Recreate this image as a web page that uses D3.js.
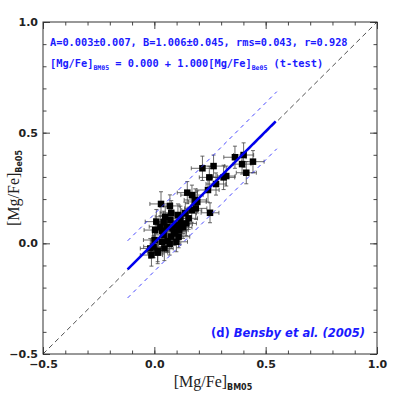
<!DOCTYPE html>
<html>
  <head>
    <meta charset="utf-8">
    <title>Mg/Fe comparison</title>
    <script src="https://d3js.org/d3.v7.min.js"></script>
    <style>
      body { margin: 0; background: #fff; }
      .tick text { font-family: "DejaVu Sans", sans-serif; font-weight: bold; }
    </style>
  </head>
  <body>
    <div id="graph"></div>
  </body>

  <script>
    // Stars: [Mg/Fe] from BM05 (x) vs Bensby et al. 2005 (y), with errors
    const xVals = [0.362, 0.401, 0.443, 0.394, 0.413, 0.216, 0.266, 0.247, 0.311, 0.323,
                   0.277, 0.241, 0.148, 0.169, 0.193, 0.030, 0.070, 0.186, 0.250, 0.076,
                   0.106, 0.139, 0.009, 0.042, 0.072, 0.121, 0.144, 0.004, 0.035, 0.082,
                   0.112, 0.042, 0.076, 0.109, 0.001, 0.035, 0.069, -0.018, 0.015, 0.045,
                   -0.013, 0.015, 0.094, 0.129, 0.168, 0.027, 0.057, 0.099, -0.003, 0.117,
                   0.154, 0.184, 0.049, 0.102, 0.060, 0.088];
    const yVals = [0.389, 0.399, 0.369, 0.358, 0.319, 0.339, 0.349, 0.298, 0.298, 0.304,
                   0.268, 0.241, 0.229, 0.218, 0.187, 0.178, 0.169, 0.158, 0.138, 0.138,
                   0.128, 0.136, 0.098, 0.095, 0.105, 0.087, 0.090, 0.060, 0.057, 0.068,
                   0.060, 0.038, 0.030, 0.030, 0.015, 0.007, -0.003, -0.023, -0.033, -0.023,
                   -0.053, -0.042, 0.053, 0.072, 0.150, 0.075, 0.075, 0.007, -0.015, 0.113,
                   0.113, 0.196, 0.120, 0.083, 0.010, 0.045];
    const xErr = [0.05, 0.045, 0.05, 0.04, 0.045, 0.05, 0.05, 0.045, 0.05, 0.04,
                  0.045, 0.05, 0.045, 0.05, 0.04, 0.05, 0.045, 0.05, 0.04, 0.05,
                  0.045, 0.05, 0.05, 0.045, 0.04, 0.05, 0.045, 0.05, 0.045, 0.05,
                  0.04, 0.05, 0.045, 0.05, 0.05, 0.045, 0.05, 0.045, 0.05, 0.04,
                  0.05, 0.045, 0.05, 0.04, 0.045, 0.05, 0.045, 0.05, 0.045, 0.05,
                  0.04, 0.05, 0.045, 0.05, 0.045, 0.05];
    const yErr = [0.05, 0.055, 0.05, 0.045, 0.05, 0.055, 0.05, 0.05, 0.055, 0.045,
                  0.05, 0.055, 0.05, 0.045, 0.05, 0.055, 0.05, 0.05, 0.045, 0.055,
                  0.05, 0.05, 0.055, 0.05, 0.045, 0.05, 0.055, 0.05, 0.05, 0.055,
                  0.045, 0.05, 0.055, 0.05, 0.05, 0.055, 0.05, 0.045, 0.05, 0.055,
                  0.05, 0.05, 0.045, 0.05, 0.055, 0.05, 0.05, 0.045, 0.05, 0.055,
                  0.05, 0.05, 0.045, 0.05, 0.05, 0.055];

    // Fit: y = A + B x, +/- 3 rms band
    const fitA = 0.003, fitB = 1.006, fitRms = 0.043;
    const fitRange = [-0.12, 0.545];
    const bandRange = [-0.12, 0.55];

    const majorTicks = [-0.5, 0.0, 0.5, 1.0];
    const minorTicks = d3.range(-0.5, 1.0001, 0.1);

    const width = 398, height = 398;
    const margin = ({top: 22, right: 21, bottom: 44, left: 43});

    const x = d3.scaleLinear().domain([-0.5, 1.0]).range([margin.left, width - margin.right]);
    const y = d3.scaleLinear().domain([-0.5, 1.0]).range([height - margin.bottom, margin.top]);

    const svg = d3.select("#graph").append("svg")
      .attr("width", width)
      .attr("height", height);

    const fmt = d3.format(".1f");

    // inward ticks on all four sides
    function drawAxis(axisFn, scale, transform, size, values, labels) {
      const g = svg.append("g")
        .attr("transform", transform)
        .call(axisFn(scale).tickValues(values).tickSize(-size).tickPadding(4)
          .tickFormat(labels ? fmt : ""));
      g.select(".domain").remove();
      g.selectAll("line").attr("stroke", "#333").attr("stroke-width", 0.9);
      return g;
    }
    const bottomY = `translate(0,${height - margin.bottom})`;
    const topY = `translate(0,${margin.top})`;
    const leftX = `translate(${margin.left},0)`;
    const rightX = `translate(${width - margin.right},0)`;

    drawAxis(d3.axisBottom, x, bottomY, 3.5, minorTicks, false);
    const xa = drawAxis(d3.axisBottom, x, bottomY, 7, majorTicks, true);
    drawAxis(d3.axisTop, x, topY, 3.5, minorTicks, false);
    drawAxis(d3.axisTop, x, topY, 7, majorTicks, false);
    drawAxis(d3.axisLeft, y, leftX, 3.5, minorTicks, false);
    const ya = drawAxis(d3.axisLeft, y, leftX, 7, majorTicks, true);
    drawAxis(d3.axisRight, y, rightX, 3.5, minorTicks, false);
    drawAxis(d3.axisRight, y, rightX, 7, majorTicks, false);

    xa.selectAll("text").attr("font-size", 11).attr("fill", "#222").attr("dy", "0.9em");
    ya.selectAll("text").attr("font-size", 11).attr("fill", "#222").attr("dx", "-1");

    svg.append("rect")
      .attr("x", margin.left).attr("y", margin.top)
      .attr("width", width - margin.left - margin.right)
      .attr("height", height - margin.top - margin.bottom)
      .attr("fill", "none").attr("stroke", "#333").attr("stroke-width", 1);

    // one-to-one line
    svg.append("line")
      .attr("x1", x(-0.5)).attr("y1", y(-0.5))
      .attr("x2", x(1.0)).attr("y2", y(1.0))
      .attr("stroke", "#222").attr("stroke-width", 0.8)
      .attr("stroke-dasharray", "5,3.5");

    // error bars
    const pts = xVals.map((v, i) => ({x: v, y: yVals[i], ex: xErr[i], ey: yErr[i]}));
    const cap = 2;
    const eb = svg.append("g").attr("stroke", "#444").attr("stroke-width", 0.8);
    pts.forEach(d => {
      eb.append("line").attr("x1", x(d.x - d.ex)).attr("x2", x(d.x + d.ex))
        .attr("y1", y(d.y)).attr("y2", y(d.y));
      eb.append("line").attr("x1", x(d.x)).attr("x2", x(d.x))
        .attr("y1", y(d.y - d.ey)).attr("y2", y(d.y + d.ey));
      [d.x - d.ex, d.x + d.ex].forEach(v => eb.append("line")
        .attr("x1", x(v)).attr("x2", x(v)).attr("y1", y(d.y) - cap).attr("y2", y(d.y) + cap));
      [d.y - d.ey, d.y + d.ey].forEach(v => eb.append("line")
        .attr("x1", x(d.x) - cap).attr("x2", x(d.x) + cap).attr("y1", y(v)).attr("y2", y(v)));
    });

    // squares
    const sz = 6.5;
    svg.append("g").selectAll("rect").data(pts).enter().append("rect")
      .attr("x", d => x(d.x) - sz / 2).attr("y", d => y(d.y) - sz / 2)
      .attr("width", sz).attr("height", sz).attr("fill", "#000");

    // fit line and +/- 3 rms
    const fy = v => fitA + fitB * v;
    svg.append("line")
      .attr("x1", x(fitRange[0])).attr("y1", y(fy(fitRange[0])))
      .attr("x2", x(fitRange[1])).attr("y2", y(fy(fitRange[1])))
      .attr("stroke", "#0000ee").attr("stroke-width", 2.6);
    [3 * fitRms, -3 * fitRms].forEach(off => {
      svg.append("line")
        .attr("x1", x(bandRange[0])).attr("y1", y(fy(bandRange[0]) + off))
        .attr("x2", x(bandRange[1])).attr("y2", y(fy(bandRange[1]) + off))
        .attr("stroke", "#3333ff").attr("stroke-width", 0.9)
        .attr("stroke-dasharray", "4,4");
    });

    // annotations
    const blue = "#1a1aff";
    const mono = "'DejaVu Sans Mono', monospace";
    svg.append("text")
      .attr("x", 50).attr("y", 46)
      .attr("font-family", mono).attr("font-weight", "bold").attr("font-size", 10.3)
      .attr("fill", blue)
      .text("A=0.003\u00b10.007, B=1.006\u00b10.045, rms=0.043, r=0.928");

    const eq = svg.append("text")
      .attr("x", 50).attr("y", 67)
      .attr("font-family", mono).attr("font-weight", "bold").attr("font-size", 10.3)
      .attr("fill", blue);
    eq.append("tspan").text("[Mg/Fe]");
    eq.append("tspan").attr("font-size", 6.5).attr("dy", 2.5).text("BM05");
    eq.append("tspan").attr("dy", -2.5).text(" = 0.000 + 1.000[Mg/Fe]");
    eq.append("tspan").attr("font-size", 6.5).attr("dy", 2.5).text("Be05");
    eq.append("tspan").attr("dy", -2.5).text(" (t-test)");

    const ref = svg.append("text")
      .attr("x", 365).attr("y", 337)
      .attr("text-anchor", "end")
      .attr("font-family", "'DejaVu Sans', sans-serif").attr("font-weight", "bold")
      .attr("font-size", 11.5).attr("fill", blue);
    ref.append("tspan").text("(d) ");
    ref.append("tspan").attr("font-style", "italic").text("Bensby et al. (2005)");

    // axis titles
    const serif = "'Liberation Serif', 'DejaVu Serif', serif";
    const xt = svg.append("text")
      .attr("x", (margin.left + width - margin.right) / 2 + 3).attr("y", 387)
      .attr("text-anchor", "middle").attr("fill", "#222");
    xt.append("tspan").attr("font-family", serif).attr("font-size", 16).text("[Mg/Fe]");
    xt.append("tspan").attr("font-family", "'DejaVu Sans', sans-serif").attr("font-weight", "bold")
      .attr("font-size", 8).attr("dy", 3).text("BM05");

    const yt = svg.append("text")
      .attr("transform", `translate(19,${(margin.top + height - margin.bottom) / 2}) rotate(-90)`)
      .attr("text-anchor", "middle").attr("fill", "#222");
    yt.append("tspan").attr("font-family", serif).attr("font-size", 16).text("[Mg/Fe]");
    yt.append("tspan").attr("font-family", "'DejaVu Sans', sans-serif").attr("font-weight", "bold")
      .attr("font-size", 8).attr("dy", 3).text("Be05");
  </script>
</html>
